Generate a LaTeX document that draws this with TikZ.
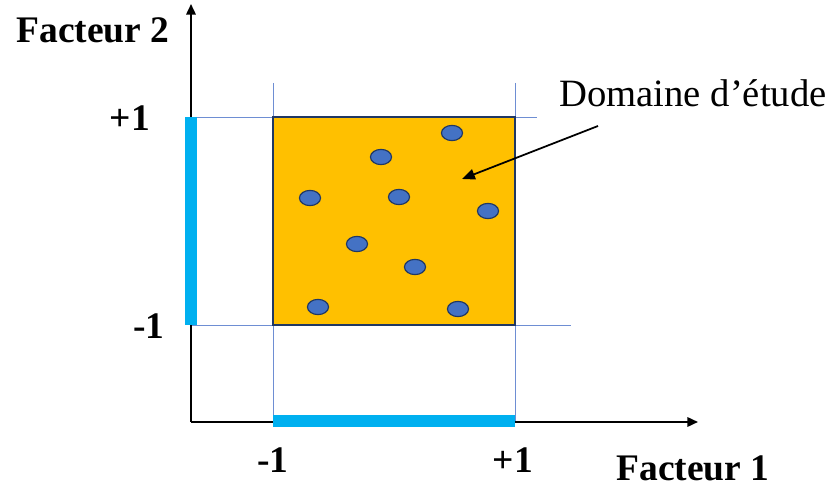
\documentclass[tikz,border=0pt]{standalone}
\usepackage{fontspec}
\setmainfont{Liberation Serif}
\usepackage{tikz}
\usetikzlibrary{arrows.meta,shapes.geometric}

\definecolor{domorange}{HTML}{FFC000}
\definecolor{dotblue}{HTML}{4472C4}
\definecolor{dotedge}{HTML}{203864}
\definecolor{barblue}{HTML}{00B0F0}
\definecolor{gridblue}{HTML}{4A72C8}

\tikzset{
  axis/.style={line width=1.7pt,-{Triangle[length=9pt,width=8pt]}},
  guide/.style={gridblue!80,line width=0.8pt},
  levelbar/.style={barblue,line width=9.5pt},
  expt/.style={ellipse,draw=dotedge,line width=1pt,fill=dotblue,
    minimum width=18pt,minimum height=13pt,inner sep=0pt},
  biglabel/.style={font=\fontsize{32}{36}\selectfont\bfseries,inner sep=0pt}
}

\begin{document}
\begin{tikzpicture}[x=0.03cm,y=-0.03cm]
  \useasboundingbox (0,0) rectangle (835,489);
  % axes
  \coordinate (O) at (191,422);
  \coordinate (Ytop) at (191,4);
  \coordinate (Xend) at (698,422);
  % thin guides
  \draw[guide] (191,117) -- (537,117);
  \draw[guide] (191,325) -- (571,325);
  \draw[guide] (273,83) -- (273,422);
  \draw[guide] (515,83) -- (515,422);
  % study domain
  \draw[dotedge,line width=1.1pt,fill=domorange] (273,117) rectangle (515,325);
  \draw[axis] (O) -- (Ytop);
  \draw[axis] (O) -- (Xend);
  % level bars
  \draw[levelbar] (191,117) -- (191,325);
  \draw[levelbar] (273,421) -- (515,421);
  % experiments
  \foreach \px/\py [count=\i] in {452/133,381/157,310/198,399/197,488/211,
      357/244,415/267,318/307,458/309}
    \node[expt] (dot\i) at (\px,\py) {};
  % labels
  \node[biglabel] (fac2) at (93,30) {Facteur 2};
  \node[biglabel] (fac1) at (693,468) {Facteur 1};
  \node[biglabel] (yplus) at (130,118) {+1};
  \node[biglabel] (yminus) at (149,326) {-1};
  \node[biglabel] (xminus) at (273,460) {-1};
  \node[biglabel] (xplus) at (513,460) {+1};
  \node[font=\fontsize{33}{36}\selectfont,inner sep=0pt] (dom) at (693,93)
    {Domaine d’étude};
  \coordinate (tip) at (462,179);
  \draw[line width=1.5pt,-{Triangle[length=11pt,width=9pt]}] (598,126) -- (tip);
\end{tikzpicture}
\end{document}
